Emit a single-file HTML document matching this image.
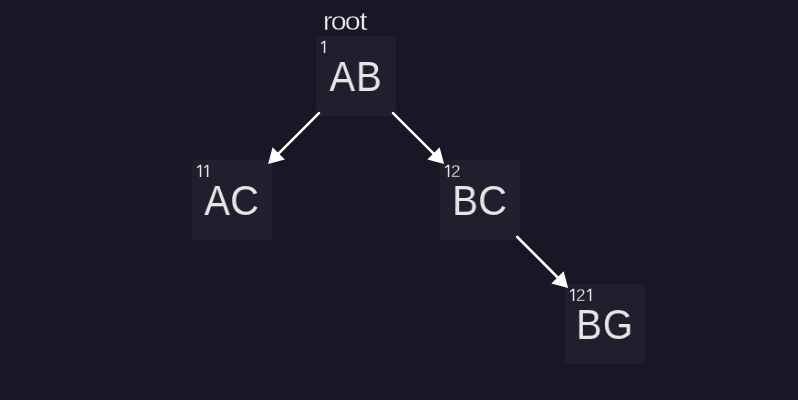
<!DOCTYPE html>
<html><head><meta charset="utf-8">
<style>
html,body{margin:0;padding:0;}
body{width:798px;height:400px;background:#171726;overflow:hidden;position:relative;font-family:"Liberation Sans",sans-serif;}
.box{position:absolute;width:80px;height:80px;background:#1f1f2e;border-radius:4px;}
.big{position:absolute;left:-10px;width:100px;text-align:center;top:17px;font-size:42px;line-height:48px;color:#e6e6e6;letter-spacing:1.1px;transform:scaleX(0.916);transform-origin:50% 50%;will-change:transform;}
.w{display:inline-block;position:relative;left:0.3px;transform:scaleX(1.035);transform-origin:100% 50%;}
.two{position:absolute;top:2px;font-size:17px;line-height:20px;color:#e6e6e6;will-change:transform;-webkit-text-stroke:0.3px #1f1f2e;}
.root span{position:relative;}
.root{position:absolute;left:311.3px;width:68px;text-align:center;top:6.2px;font-size:25.5px;line-height:30px;color:#f0f0f0;will-change:transform;-webkit-text-stroke:0.4px #171726;transform:translateY(0.4px) scaleX(1.12);letter-spacing:-1px;}
svg{position:absolute;left:0;top:0;}
</style></head><body>
<div class="root"><span style="left:0.35px">r</span><span style="left:-0.35px">o</span><span style="left:-0.9px">o</span><span style="left:-1px">t</span></div>
<div class="box" style="left:316px;top:36px"><div class="big">AB</div></div>
<div class="box" style="left:192px;top:160px"><div class="big">A<span class="w">C</span></div></div>
<div class="box" style="left:440px;top:160px"><span class="two" style="left:11px">2</span><div class="big">B<span class="w">C</span></div></div>
<div class="box" style="left:565px;top:284px"><span class="two" style="left:11px">2</span><div class="big">BG</div></div>
<svg width="798" height="400" viewBox="0 0 798 400">
<defs>
<path id="one" d="M3.0,0 H4.48 V12.2 H3.0 V1.7 L0.62,3.5 L0,2.45 Z"/>
</defs>
<g fill="#e6e6e6">
<use href="#one" x="320.8" y="40.8"/>
<use href="#one" x="196.8" y="164.8"/>
<use href="#one" x="203.9" y="164.8"/>
<use href="#one" x="444.8" y="164.8"/>
<use href="#one" x="569.8" y="288.8"/>
<use href="#one" x="586.8" y="288.8"/>
</g>
<g stroke="#fff" stroke-width="2.6" stroke-linecap="round" fill="none">
<line x1="319.00" y1="113.10" x2="278.00" y2="154.10"/>
<line x1="393.00" y1="113.10" x2="434.18" y2="154.12"/>
<line x1="517.30" y1="237.00" x2="558.21" y2="277.99"/>
</g>
<g fill="#fff">
<polygon points="268.10,164.00 272.55,147.24 284.86,159.55"/>
<polygon points="444.10,164.00 427.33,159.58 439.61,147.25"/>
<polygon points="568.10,287.90 551.35,283.43 563.66,271.14"/>
</g>
</svg>
</body></html>
